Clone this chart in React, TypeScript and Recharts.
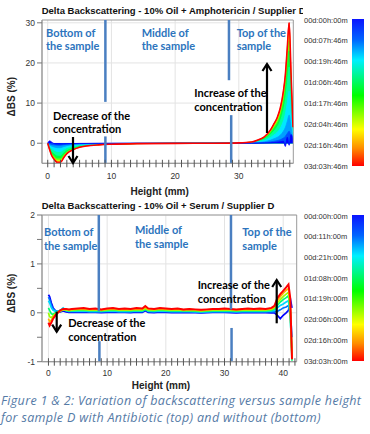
import React from 'react';
import { ComposedChart, Area, Line, XAxis, YAxis, CartesianGrid, ReferenceLine, ReferenceArea } from 'recharts';

// ---- top panel: 10% Oil + Amphotericin, heights in mm, one array of ΔBS (%) per scan (earliest first)
const topHeights = [0, 0.3, 0.6, 1, 1.5, 2, 2.5, 3, 4, 5, 6, 8, 10, 14, 20, 26, 30, 32, 33, 34, 35, 35.5, 36, 36.5, 37, 37.3, 37.6, 37.9, 38.2, 38.5];
const topScans = [
  [0, 0.6, 0.3, -0.1, -0.2, -0.2, -0.15, -0.12, -0.08, -0.05, -0.04, -0.02, -0.01, 0, 0, 0, 0, 0.01, 0.03, 0.06, 0.12, 0.18, 0.25, 0.35, 0.5, -0.8, 1.5, -0.5, 2.2, 1],
  [0, -0.16, -0.3, -0.4, -0.48, -0.48, -0.36, -0.26, -0.16, -0.1, -0.07, -0.04, -0.03, -0.01, 0, 0, 0.01, 0.03, 0.08, 0.16, 0.34, 0.48, 0.63, 0.87, 1.3, 1.7, 2.4, 3, 1.7, 0.4],
  [0, -0.37, -0.7, -0.92, -1.1, -1.1, -0.83, -0.6, -0.37, -0.23, -0.16, -0.09, -0.06, -0.02, -0.01, 0, 0.02, 0.07, 0.18, 0.37, 0.78, 1.1, 1.45, 2.0, 3.0, 3.9, 5.4, 7, 3.9, 0.9],
  [0, -0.7, -1.3, -1.7, -2.05, -2.05, -1.55, -1.1, -0.7, -0.43, -0.3, -0.17, -0.11, -0.04, -0.01, 0, 0.04, 0.13, 0.34, 0.7, 1.45, 2.05, 2.7, 3.75, 5.6, 7.3, 10.1, 13, 7.3, 1.7],
  [0, -1.0, -1.9, -2.5, -3.0, -3.0, -2.25, -1.65, -1.0, -0.63, -0.44, -0.25, -0.16, -0.06, -0.02, 0, 0.06, 0.19, 0.5, 1.0, 2.15, 3.0, 4.0, 5.5, 8.2, 10.7, 14.9, 19, 10.7, 2.5],
  [0, -1.25, -2.3, -3.1, -3.7, -3.7, -2.8, -2.0, -1.25, -0.77, -0.54, -0.31, -0.19, -0.08, -0.02, 0, 0.07, 0.23, 0.6, 1.25, 2.6, 3.7, 4.85, 6.7, 10, 13.1, 18.2, 23, 13.1, 3.1],
  [0, -1.35, -2.55, -3.4, -4.1, -4.1, -3.05, -2.2, -1.35, -0.85, -0.6, -0.34, -0.21, -0.08, -0.02, 0, 0.08, 0.25, 0.68, 1.35, 2.9, 4.1, 5.35, 7.4, 11, 14.5, 20, 25.5, 14.5, 3.4],
  [0, -1.45, -2.7, -3.6, -4.3, -4.3, -3.25, -2.35, -1.45, -0.9, -0.63, -0.36, -0.22, -0.09, -0.03, 0, 0.09, 0.27, 0.72, 1.45, 3.05, 4.3, 5.7, 7.8, 11.7, 15.3, 21.2, 27, 15.3, 3.6],
  [0, -1.5, -2.85, -3.8, -4.55, -4.55, -3.4, -2.45, -1.5, -0.95, -0.65, -0.38, -0.24, -0.1, -0.03, 0, 0.1, 0.28, 0.75, 1.5, 3.2, 4.55, 6.0, 8.3, 12.3, 16.2, 22.4, 28.5, 16.2, 3.8],
  [0, -1.6, -3.0, -4.0, -4.8, -4.8, -3.6, -2.6, -1.6, -1.0, -0.7, -0.4, -0.25, -0.1, -0.03, 0, 0.1, 0.3, 0.8, 1.6, 3.4, 4.8, 6.3, 8.7, 13, 17, 23.6, 30, 17, 4],
];
const topTimeLabels = ['00d:00h:00m', '00d:07h:46m', '00d:19h:46m', '01d:06h:46m', '01d:17h:46m', '02d:04h:46m', '02d:16h:46m', '03d:03h:46m'];
const topYTicks = [0, 10, 20, 30];

// ---- bottom panel: 10% Oil + Serum
const bottomHeights = [0, 0.2, 0.5, 0.8, 1.2, 1.6, 2, 2.5, 3, 3.5, 4, 5, 6, 7, 8, 9, 10, 11, 12, 13, 14, 15, 16, 16.5, 17, 18, 19, 20, 21, 22, 23, 24, 25, 26, 27, 28, 29, 30, 31, 32, 33, 34, 35, 36, 37, 38, 38.5, 39, 39.5, 40, 40.5, 40.9, 41.2, 41.5];
const bottomScans = [
  [0.37, 0.33, 0.2, 0.1, 0.04, 0.02, 0.02, 0.04, 0.02, 0.01, 0.01,
    0.01, 0.015, 0.01, 0.01, 0.005, 0.01, 0.015, 0.01, 0.01, 0.005, 0.015, 0.01, 0.04, 0.01,
    0.005, 0.015, 0.01, 0.005, 0.01, 0.005, 0.01, 0.005, 0.0, 0.005, 0.01, 0.01, 0.01, 0.005,
    0.0, 0.005, 0.01, 0.005, 0.01, 0.005, 0.0,
    0.0, -0.05, -0.12, -0.05, 0.0, 0.05, 0.3, 0.1],
  [0.32, 0.27, 0.15, 0.08, 0.04, 0.03, 0.04, 0.08, 0.04, 0.025, 0.025,
    0.025, 0.03, 0.02, 0.025, 0.02, 0.025, 0.03, 0.02, 0.025, 0.02, 0.03, 0.025, 0.06, 0.025,
    0.02, 0.03, 0.025, 0.02, 0.025, 0.02, 0.02, 0.015, 0.01, 0.015, 0.02, 0.02, 0.025, 0.02,
    0.015, 0.02, 0.025, 0.02, 0.025, 0.02, 0.02,
    0.02, 0.03, 0.06, 0.1, 0.12, 0.15, 0.05, -0.5],
  [0.25, 0.2, 0.1, 0.05, 0.03, 0.03, 0.05, 0.1, 0.05, 0.035, 0.035,
    0.035, 0.04, 0.03, 0.035, 0.03, 0.035, 0.04, 0.03, 0.035, 0.03, 0.04, 0.035, 0.08, 0.035,
    0.03, 0.04, 0.035, 0.03, 0.035, 0.03, 0.03, 0.025, 0.02, 0.025, 0.03, 0.03, 0.035, 0.03,
    0.025, 0.03, 0.035, 0.03, 0.035, 0.03, 0.04,
    0.05, 0.1, 0.15, 0.18, 0.22, 0.25, -0.1, -0.8],
  [0.1, 0.05, -0.02, -0.03, 0.0, 0.02, 0.04, 0.07, 0.05, 0.04, 0.045,
    0.05, 0.05, 0.045, 0.045, 0.04, 0.045, 0.055, 0.045, 0.045, 0.04, 0.05, 0.045, 0.07, 0.045,
    0.04, 0.055, 0.045, 0.04, 0.045, 0.04, 0.04, 0.035, 0.03, 0.035, 0.04, 0.04, 0.045, 0.04,
    0.035, 0.04, 0.045, 0.04, 0.045, 0.04, 0.05,
    0.08, 0.15, 0.22, 0.27, 0.31, 0.35, 0.0, -0.98],
  [0.0, -0.08, -0.1, -0.06, -0.02, 0.01, 0.03, 0.06, 0.06, 0.05, 0.055,
    0.065, 0.065, 0.055, 0.06, 0.05, 0.06, 0.07, 0.055, 0.06, 0.055, 0.065, 0.06, 0.09, 0.06,
    0.055, 0.07, 0.06, 0.055, 0.06, 0.05, 0.055, 0.05, 0.04, 0.05, 0.055, 0.055, 0.06, 0.055,
    0.05, 0.055, 0.06, 0.055, 0.06, 0.055, 0.07,
    0.1, 0.2, 0.27, 0.33, 0.38, 0.42, 0.1, -0.92],
  [-0.12, -0.18, -0.15, -0.09, -0.03, 0.01, 0.04, 0.07, 0.07, 0.06, 0.07,
    0.08, 0.08, 0.07, 0.075, 0.06, 0.075, 0.085, 0.07, 0.075, 0.07, 0.08, 0.075, 0.11, 0.075,
    0.07, 0.085, 0.075, 0.07, 0.075, 0.06, 0.07, 0.06, 0.05, 0.06, 0.07, 0.07, 0.075, 0.07,
    0.06, 0.07, 0.075, 0.07, 0.075, 0.07, 0.085,
    0.12, 0.25, 0.33, 0.4, 0.46, 0.5, 0.2, -0.9],
  [-0.2, -0.26, -0.2, -0.12, -0.05, 0.0, 0.05, 0.08, 0.08, 0.07, 0.08,
    0.09, 0.1, 0.08, 0.09, 0.07, 0.09, 0.1, 0.08, 0.09, 0.08, 0.1, 0.09, 0.14, 0.09,
    0.08, 0.1, 0.09, 0.08, 0.09, 0.07, 0.08, 0.07, 0.06, 0.07, 0.08, 0.08, 0.09, 0.08,
    0.07, 0.08, 0.09, 0.08, 0.09, 0.08, 0.1,
    0.14, 0.3, 0.38, 0.45, 0.52, 0.58, 0.3, -0.95],
];
const bottomTimeLabels = ['00d:00h:00m', '00d:11h:00m', '00d:21h:00m', '01d:08h:00m', '01d:19h:00m', '02d:06h:00m', '02d:16h:00m', '03d:03h:00m'];
const bottomYTicks = [-1, -0.5, 0, 0.5, 1, 1.5, 2];

const topColors = ['#0000ff', '#0050ff', '#00a0ff', '#00e8ff', '#00ffa0', '#00ff40', '#70ff00', '#e0ff00', '#ffa000', '#ff1a00'];
const bottomColors = ['#0000ff', '#0070ff', '#00d8ff', '#00ff70', '#9aff00', '#ffb000', '#ff0000'];

// blue zone separators, broken where the notes sit
const topDividers = [
  { x: 9.05, from: 10.3, to: 30.7 },
  { x: 9.05, from: -5, to: 1.7 },
  { x: 28.45, from: 15.7, to: 30.7 },
  { x: 28.8, from: -5, to: 7.0 },
];
const bottomDividers = [
  { x: 8.58, from: 0.03, to: 2 },
  { x: 8.68, from: -1, to: -0.58 },
  { x: 31.1, from: 0.07, to: 2 },
  { x: 31.2, from: -1, to: -0.31 },
];

const BLUE = '#2c74bd';
const notes = [
  { lines: ['Bottom of', 'the sample'], x: 46, y: 32, color: BLUE },
  { lines: ['Middle of', 'the sample'], x: 141.7, y: 32, color: BLUE },
  { lines: ['Top of the', 'sample'], x: 236.7, y: 32, color: BLUE },
  { lines: ['Decrease of the', 'concentration'], x: 53, y: 115, color: '#000' },
  { lines: ['Increase of the', 'concentration'], x: 194.3, y: 92.7, color: '#000' },
  { lines: ['Bottom of', 'the sample'], x: 44, y: 231.7, color: BLUE },
  { lines: ['Middle of', 'the sample'], x: 135, y: 229.3, color: BLUE },
  { lines: ['Top of the', 'sample'], x: 242.3, y: 231.7, color: BLUE },
  { lines: ['Decrease of the', 'concentration'], x: 68.3, y: 322.3, color: '#000' },
  { lines: ['Increase of the', 'concentration'], x: 197.7, y: 284.3, color: '#000' },
];
const arrows = [
  { x: 73, from: 137, to: 163 },
  { x: 267, from: 133, to: 64 },
  { x: 56.7, from: 311.7, to: 331.7 },
  { x: 276.7, from: 323.3, to: 280 },
];

const toRows = (heights: number[], scans: number[][]) =>
  heights.map((h, i) => {
    const row: Record<string, number> = { h };
    scans.forEach((s, k) => {
      row['k' + k] = s[i];
    });
    return row;
  });

const topRows = toRows(topHeights, topScans);
const bottomRows = toRows(bottomHeights, bottomScans);

const mmTicks = (max: number) => Array.from({ length: max + 1 }, (_, i) => i);

const AXIS_FONT = 'Liberation Sans, Arial, sans-serif';

const heightTick = (labelDy: number) => (props: any) => {
  const { x, y, payload } = props;
  const v = payload.value as number;
  return (
    <g>
      <line x1={x} x2={x} y1={y - 3.5} y2={y + 4} stroke="#555" strokeWidth={1} />
      {v % 10 === 0 ? (
        <text x={x} y={y + labelDy} textAnchor="middle" fontSize={8.5} fill="#333" fontFamily={AXIS_FONT}>
          {v}
        </text>
      ) : null}
    </g>
  );
};

const dividerLines = (list: { x: number; from: number; to: number }[]) =>
  list.map((d, i) => (
    <ReferenceLine
      key={'d' + i}
      segment={[{ x: d.x, y: d.from }, { x: d.x, y: d.to }]}
      stroke="#4a7fc1"
      strokeWidth={2.5}
      ifOverflow="visible"
    />
  ));

const yAxisProps = {
  type: 'number' as const,
  width: 42,
  interval: 0 as const,
  allowDataOverflow: true,
  tick: { fontSize: 8.5, fill: '#333', fontFamily: AXIS_FONT },
  tickLine: { stroke: '#777' },
  tickSize: 5,
  tickMargin: 2,
  axisLine: { stroke: '#999' },
};

const TopPanel = () => {
  const order = [9, 8, 7, 6, 5, 4, 3, 2, 1, 0];
  return (
    <ComposedChart width={370} height={200} data={topRows} margin={{ top: 20, right: 76.7, left: 0, bottom: 0 }}>
      <CartesianGrid stroke="#e3e3e3" horizontalValues={topYTicks} verticalValues={[0, 10, 20, 30]} />
      <XAxis
        dataKey="h"
        type="number"
        domain={[-0.9, 38.55]}
        allowDataOverflow
        ticks={mmTicks(38)}
        interval={0}
        height={36.7}
        tickSize={0}
        tickMargin={0}
        tickLine={false}
        axisLine={{ stroke: '#999' }}
        tick={heightTick(16)}
      />
      <YAxis {...yAxisProps} domain={[-5, 30.7]} ticks={topYTicks} />
      {order.map((k) => (
        <Area
          key={k}
          type="monotone"
          dataKey={'k' + k}
          baseValue={0}
          stroke={topColors[k]}
          strokeWidth={0.8}
          fill={topColors[k]}
          fillOpacity={1}
          dot={false}
          activeDot={false}
          isAnimationActive={false}
        />
      ))}
      <Line type="monotone" dataKey="k9" stroke="#ff0000" strokeWidth={1.6} dot={false} activeDot={false} isAnimationActive={false} />
      {dividerLines(topDividers)}
      <ReferenceArea x1={-0.9} x2={38.55} y1={-5} y2={30.7} fill="none" stroke="#9a9a9a" ifOverflow="visible" />
    </ComposedChart>
  );
};

const BottomPanel = () => (
  <ComposedChart width={370} height={200} data={bottomRows} margin={{ top: 20, right: 73.3, left: 0, bottom: 0 }}>
    <CartesianGrid stroke="#e3e3e3" horizontalValues={[-1, 0, 1, 2]} verticalValues={[0, 10, 20, 30, 40]} />
    <XAxis
      dataKey="h"
      type="number"
      domain={[-1.1, 42.3]}
      allowDataOverflow
      ticks={mmTicks(42)}
      interval={0}
      height={33.3}
      tickSize={0}
      tickMargin={0}
      tickLine={false}
      axisLine={{ stroke: '#999' }}
      tick={heightTick(14)}
    />
    <YAxis
      {...yAxisProps}
      domain={[-1, 2]}
      ticks={bottomYTicks}
      tickFormatter={(v: number) => (Number.isInteger(v) ? String(v) : '')}
    />
    {bottomColors.map((c, k) => (
      <Line
        key={k}
        type="linear"
        dataKey={'k' + k}
        stroke={c}
        strokeWidth={k === bottomColors.length - 1 ? 2 : 1.7}
        dot={false}
        activeDot={false}
        isAnimationActive={false}
      />
    ))}
    {dividerLines(bottomDividers)}
    <ReferenceArea x1={-1.1} x2={42.3} y1={-1} y2={2} fill="none" stroke="#9a9a9a" ifOverflow="visible" />
  </ComposedChart>
);

const ColorScale = ({ top, height, labels, id }: { top: number; height: number; labels: string[]; id: string }) => {
  const step = (height - 1) / (labels.length - 1);
  return (
    <g>
      <defs>
        <linearGradient id={id} x1="0" y1="0" x2="0" y2="1">
          <stop offset="0" stopColor="#0a14ff" />
          <stop offset="0.14" stopColor="#0064ff" />
          <stop offset="0.28" stopColor="#00f0ff" />
          <stop offset="0.52" stopColor="#00ff00" />
          <stop offset="0.75" stopColor="#ffff00" />
          <stop offset="0.88" stopColor="#ff8c00" />
          <stop offset="1" stopColor="#ff0000" />
        </linearGradient>
      </defs>
      <rect x={352} y={top} width={12} height={height} fill={`url(#${id})`} />
      {labels.map((l, i) => (
        <text key={l} x={304} y={top + 1 + i * step} dominantBaseline="central" fontSize={7.5} fill="#333" fontFamily={AXIS_FONT}>
          {l}
        </text>
      ))}
    </g>
  );
};

const Overlay = () => (
  <svg width={370} height={434} style={{ position: 'absolute', left: 0, top: 0, pointerEvents: 'none' }}>
    <defs>
      <clipPath id="titleClip">
        <rect x={0} y={0} width={303} height={434} />
      </clipPath>
    </defs>
    <g clipPath="url(#titleClip)" fontFamily={AXIS_FONT} fontWeight="bold" fontSize={9.5} fill="#111">
      <text x={41.7} y={10.7} dominantBaseline="central">Delta Backscattering - 10% Oil + Amphotericin / Supplier D</text>
      <text x={41.7} y={205.7} dominantBaseline="central">Delta Backscattering - 10% Oil + Serum / Supplier D</text>
    </g>
    <g fontFamily={AXIS_FONT} fontWeight="bold" fontSize={10} fill="#222" textAnchor="middle">
      <text x={159.7} y={191.7} dominantBaseline="central">Height (mm)</text>
      <text x={161} y={385} dominantBaseline="central">Height (mm)</text>
      <text x={11.7} y={96.7} dominantBaseline="central" transform="rotate(-90 11.7 96.7)">ΔBS (%)</text>
      <text x={12} y={293.3} dominantBaseline="central" transform="rotate(-90 12 293.3)">ΔBS (%)</text>
    </g>
    <ColorScale top={19} height={147} labels={topTimeLabels} id="scaleTop" />
    <ColorScale top={215} height={146} labels={bottomTimeLabels} id="scaleBottom" />
    {notes.map((n, i) => (
      <g key={'n' + i} fontFamily="Lato, sans-serif" fontWeight="bold" fontSize={11} fill={n.color}>
        {n.lines.map((line, j) => (
          <text key={j} x={n.x} y={n.y + j * 13.7} dominantBaseline="central">
            {line}
          </text>
        ))}
      </g>
    ))}
    {arrows.map((a, i) => {
      const dir = a.to > a.from ? 1 : -1;
      return (
        <g key={'a' + i} stroke="#000" strokeWidth={2.2} fill="none">
          <line x1={a.x} x2={a.x} y1={a.from} y2={a.to} />
          <polyline points={`${a.x - 4.5},${a.to - dir * 7} ${a.x},${a.to} ${a.x + 4.5},${a.to - dir * 7}`} />
        </g>
      );
    })}
  </svg>
);

export default function App() {
  return (
    <div style={{ position: 'absolute', left: 0, top: 0, width: 370, height: 434, background: '#fff', overflow: 'hidden' }}>
      <div style={{ position: 'absolute', left: 0, top: 195 }}>
        <BottomPanel />
      </div>
      <div style={{ position: 'absolute', left: 0, top: 0 }}>
        <TopPanel />
      </div>
      <Overlay />
      <div
        style={{
          position: 'absolute',
          left: 1,
          top: 391.7,
          width: 369,
          fontFamily: 'Open Sans, sans-serif',
          fontStyle: 'italic',
          fontSize: 12.5,
          letterSpacing: 0.33,
          lineHeight: '17px',
          color: '#557aa6',
          whiteSpace: 'nowrap',
        }}
      >
        <div>Figure 1 &amp; 2: Variation of backscattering versus sample height</div>
        <div>for sample D with Antibiotic (top) and without (bottom)</div>
      </div>
    </div>
  );
}
